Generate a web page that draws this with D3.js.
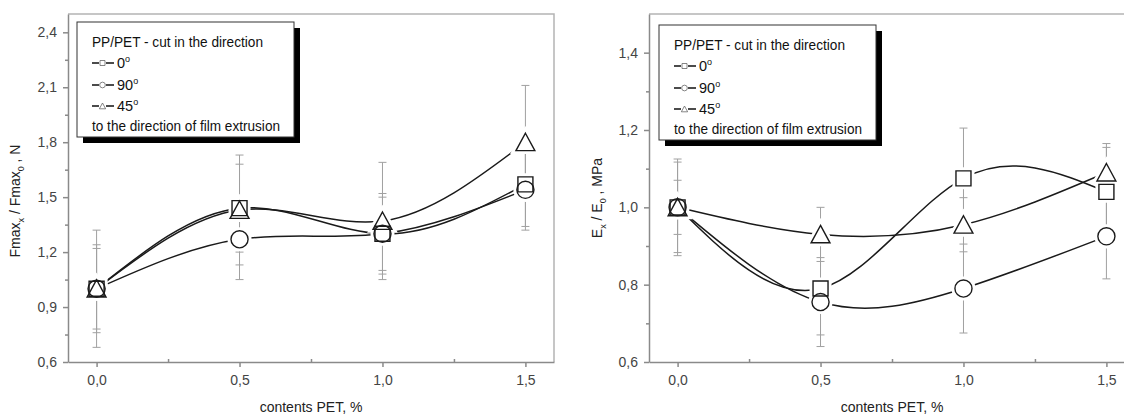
<!DOCTYPE html>
<html>
<head>
<meta charset="utf-8">
<script src="https://cdn.jsdelivr.net/npm/d3@7"></script>
<style>
  body { margin: 0; background: #fff; }
  svg { display: block; font-family: "Liberation Sans", Arial, sans-serif; }
</style>
</head>
<body>
<svg></svg>
<script>
// Svg size
const width = 1124;
const height = 416;

// Data
const contents = [0, 0.5, 1.0, 1.5];
const xTicks = [0, 0.5, 1.0, 1.5];
const angles = ["0", "90", "45"];

// left panel: Fmax_x / Fmax_0
const fmax0 = [1.00, 1.44, 1.30, 1.57];
const fmax90 = [1.00, 1.27, 1.30, 1.54];
const fmax45 = [1.00, 1.43, 1.37, 1.80];
const fmaxErr0 = [0.24, 0.24, 0.22, 0.25];
const fmaxErr90 = [0.22, 0.22, 0.20, 0.20];
const fmaxErr45 = [0.32, 0.30, 0.32, 0.31];
const fmaxTicks = [0.6, 0.9, 1.2, 1.5, 1.8, 2.1, 2.4];

// right panel: E_x / E_0
const mod0 = [1.00, 0.79, 1.075, 1.04];
const mod90 = [1.00, 0.755, 0.79, 0.925];
const mod45 = [1.00, 0.93, 0.955, 1.09];
const modErr0 = [0.117, 0.12, 0.13, 0.115];
const modErr90 = [0.125, 0.115, 0.115, 0.11];
const modErr45 = [0.07, 0.07, 0.07, 0.075];
const modTicks = [0.6, 0.8, 1.0, 1.2, 1.4];

const svg = d3.select("svg").attr("width", width).attr("height", height);

const comma = (v) => d3.format(".1f")(v).replace(".", ",");
const shapes = ["square", "circle", "triangle"];

// marker path centred on 0,0
function markerPath(shape, s) {
  if (shape === "square") {
    const h = s / 2;
    return `M${-h},${-h}H${h}V${h}H${-h}Z`;
  }
  if (shape === "circle") {
    const r = s * 0.57;
    return `M${r},0A${r},${r} 0 1,1 ${-r},0A${r},${r} 0 1,1 ${r},0Z`;
  }
  const w = s * 0.63;
  return `M0,${-s * 0.6}L${w},${s * 0.56}L${-w},${s * 0.56}Z`;
}

function drawPanel(p) {
  const x = d3.scaleLinear().domain([-0.1, 1.6]).range([p.left, p.left + 486]);
  const y = d3.scaleLinear().domain(p.yDomain).range([362, 14]);
  const g = svg.append("g");

  // top and right frame
  g.append("path")
    .attr("d", `M${x(-0.1)},${y(p.yDomain[1])}H${x(1.6)}V${y(p.yDomain[0])}`)
    .attr("fill", "none")
    .attr("stroke", "#b4b4b4")
    .attr("stroke-width", 1.5);

  // minor ticks between the majors
  const yMinorVals = d3.pairs(p.yTicks).map(([a, b]) => (a + b) / 2);
  const xMinorVals = d3.pairs(xTicks).map(([a, b]) => (a + b) / 2);

  const yMinorG = g.append("g")
    .attr("transform", `translate(${x(-0.1)},0)`)
    .call(d3.axisLeft(y).tickValues(yMinorVals).tickSize(3).tickFormat(""));
  yMinorG.select(".domain").remove();

  const xMinorG = g.append("g")
    .attr("transform", `translate(0,${y(p.yDomain[0])})`)
    .call(d3.axisBottom(x).tickValues(xMinorVals).tickSize(-3).tickFormat(""));
  xMinorG.select(".domain").remove();

  const yAxisG = g.append("g")
    .attr("transform", `translate(${x(-0.1)},0)`)
    .call(d3.axisLeft(y).tickValues(p.yTicks).tickSize(5).tickSizeOuter(0).tickPadding(6).tickFormat(comma));

  const xAxisG = g.append("g")
    .attr("transform", `translate(0,${y(p.yDomain[0])})`)
    .call(d3.axisBottom(x).tickValues(xTicks).tickSize(5).tickSizeOuter(0).tickPadding(8).tickFormat(comma));

  [yAxisG, xAxisG, yMinorG, xMinorG].forEach((a) => {
    a.selectAll(".domain, line").attr("stroke", "#8a8a8a").attr("stroke-width", 1.5);
    a.selectAll("text").attr("fill", "#444").attr("font-size", 14).attr("font-family", null);
  });

  const series = p.values.map((vals, i) => ({
    shape: shapes[i],
    points: contents.map((c, j) => ({ x: c, v: vals[j], e: p.errors[i][j] }))
  }));

  // error bars
  const eb = g.append("g").attr("stroke", "#a0a0a0").attr("stroke-width", 1);
  series.forEach((s) => {
    s.points.forEach((d) => {
      eb.append("line")
        .attr("x1", x(d.x)).attr("x2", x(d.x))
        .attr("y1", y(d.v - d.e)).attr("y2", y(d.v + d.e));
      [d.v - d.e, d.v + d.e].forEach((c) => {
        eb.append("line")
          .attr("x1", x(d.x) - 4).attr("x2", x(d.x) + 4)
          .attr("y1", y(c)).attr("y2", y(c));
      });
    });
  });

  // spline curves
  const line = d3.line()
    .x((d) => x(d.x))
    .y((d) => y(d.v))
    .curve(d3.curveNatural);

  g.selectAll(".curve")
    .data(series)
    .enter()
    .append("path")
    .attr("class", "curve")
    .attr("d", (s) => line(s.points))
    .attr("fill", "none")
    .attr("stroke", "#1a1a1a")
    .attr("stroke-width", 1.5);

  // markers: white halos first so every outline stays visible
  const pts = series.flatMap((s) => s.points.map((d) => ({ shape: s.shape, ...d })));
  g.selectAll(".halo")
    .data(pts)
    .enter()
    .append("path")
    .attr("class", "halo")
    .attr("transform", (d) => `translate(${x(d.x)},${y(d.v)})`)
    .attr("d", (d) => markerPath(d.shape, 15))
    .attr("fill", "#fff")
    .attr("stroke", "#fff")
    .attr("stroke-width", 7);

  g.selectAll(".marker")
    .data(pts)
    .enter()
    .append("path")
    .attr("class", "marker")
    .attr("transform", (d) => `translate(${x(d.x)},${y(d.v)})`)
    .attr("d", (d) => markerPath(d.shape, 15))
    .attr("fill", "none")
    .attr("stroke", "#1a1a1a")
    .attr("stroke-width", 1.4);

  // axis titles
  g.append("text")
    .attr("x", (x(0.5) + x(1.0)) / 2)
    .attr("y", 412)
    .attr("text-anchor", "middle")
    .attr("font-size", 14)
    .attr("fill", "#222")
    .text("contents PET, %");

  const yt = g.append("text")
    .attr("transform", `translate(${p.yLabelX},${p.yLabelY}) rotate(-90)`)
    .attr("text-anchor", "middle")
    .attr("font-size", 14)
    .attr("fill", "#222");
  p.yLabel.forEach((part) => {
    const t = yt.append("tspan").text(part.t);
    if (part.sub) t.attr("font-size", 9).attr("dy", 4);
    if (part.back) t.attr("dy", -4);
  });

  // legend
  const lg = g.append("g").attr("transform", `translate(${p.legend[0]},${p.legend[1]})`);
  lg.append("rect").attr("x", 6).attr("y", 6).attr("width", 217).attr("height", 115).attr("fill", "#000");
  lg.append("rect").attr("width", 217).attr("height", 115).attr("fill", "#fff")
    .attr("stroke", "#333").attr("stroke-width", 1);

  const rowY = [25, 46, 68, 89, 109];
  const lt = lg.append("g").attr("font-size", 14.5).attr("fill", "#111");
  lt.append("text").attr("x", 15).attr("y", rowY[0])
    .attr("textLength", 171).attr("lengthAdjust", "spacingAndGlyphs")
    .text("PP/PET - cut in the direction");
  angles.forEach((a, i) => {
    const cy = rowY[i + 1] - 5;
    lg.append("path")
      .attr("d", `M15,${cy}H22M29,${cy}H37`)
      .attr("stroke", "#111").attr("stroke-width", 1.5);
    lg.append("path")
      .attr("transform", `translate(25.5,${cy})`)
      .attr("d", markerPath(shapes[i], 5))
      .attr("fill", "none").attr("stroke", "#666").attr("stroke-width", 0.8);
    const t = lt.append("text").attr("x", 40).attr("y", rowY[i + 1]).text(a);
    t.append("tspan").attr("font-size", 9).attr("dy", -6).text("o");
  });
  lt.append("text").attr("x", 15).attr("y", rowY[4])
    .attr("textLength", 188).attr("lengthAdjust", "spacingAndGlyphs")
    .text("to the direction of film extrusion");
}

drawPanel({
  left: 68,
  yDomain: [0.6, 2.5],
  yTicks: fmaxTicks,
  values: [fmax0, fmax90, fmax45],
  errors: [fmaxErr0, fmaxErr90, fmaxErr45],
  legend: [77, 22],
  yLabelX: 20,
  yLabelY: 201,
  yLabel: [
    { t: "Fmax" }, { t: "x", sub: true }, { t: " / Fmax", back: true },
    { t: "0", sub: true }, { t: " , N", back: true }
  ]
});

drawPanel({
  left: 649,
  yDomain: [0.6, 1.5],
  yTicks: modTicks,
  values: [mod0, mod90, mod45],
  errors: [modErr0, modErr90, modErr45],
  legend: [659, 25],
  yLabelX: 602,
  yLabelY: 198,
  yLabel: [
    { t: "E" }, { t: "x", sub: true }, { t: " / E", back: true },
    { t: "0", sub: true }, { t: " , MPa", back: true }
  ]
});
</script>
</body>
</html>
